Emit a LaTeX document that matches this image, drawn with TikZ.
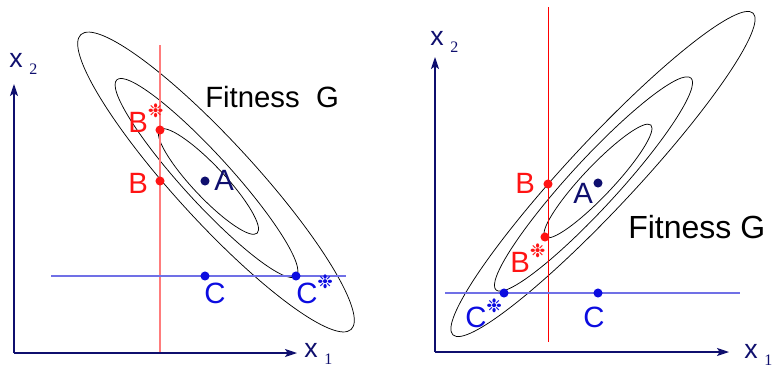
\documentclass[tikz,border=0pt]{standalone}
\usepackage{fontspec}
\setmainfont{Liberation Sans}
\newfontfamily\subfont{Liberation Serif}
\newfontfamily\symfont{DejaVu Sans}
\usetikzlibrary{arrows.meta,positioning}
\definecolor{fnavy}{HTML}{0F0F6E}
\definecolor{fred}{HTML}{FF1414}
\definecolor{fpink}{HTML}{FF7C7C}
\definecolor{fblue}{HTML}{0C0CE0}
\definecolor{flblue}{HTML}{7070E6}
\newcommand{\starmark}{\raisebox{11pt}{\symfont\fontsize{14}{14}\selectfont ❉}}
\newcommand{\axsub}[1]{\hspace{5pt}\raisebox{-5.5pt}{\subfont\fontsize{12}{12}\selectfont #1}}
\tikzset{
  axis/.style={draw=fnavy,line width=0.8pt,-{Stealth[length=9pt,width=6pt,inset=2pt]}},
  contour/.style={draw=black,line width=0.55pt},
  dot/.style={circle,inner sep=0pt,minimum size=6.8pt},
  lbl/.style={font=\fontsize{22}{24}\selectfont,inner sep=0pt,anchor=base west},
  axlbl/.style={font=\fontsize{20}{22}\selectfont,inner sep=0pt,anchor=base west,text=fnavy},
}
\begin{document}
\begin{tikzpicture}[x=0.75pt,y=-0.75pt]
\useasboundingbox (0,0) rectangle (772,369);
% left: fitness G with negative correlation
\coordinate (o1) at (14,353);
\coordinate (e1) at (297,353);
\coordinate (f1) at (14,84);
\coordinate (rt1) at (160,45);
\coordinate (rb1) at (160,353);
\coordinate (bl1) at (51,276);
\coordinate (br1) at (346,276);
\draw[contour,rotate around={-47.5:(216,182)}] (216,182) ellipse [x radius=200,y radius=40];
\draw[contour,rotate around={-47.6:(206.5,178)}] (206.5,178) ellipse [x radius=133,y radius=24];
\draw[contour,rotate around={-46.7:(208.5,181.5)}] (208.5,181.5) ellipse [x radius=71,y radius=16];
\draw[fpink,line width=1pt] (rt1) -- (rb1);
\draw[flblue,line width=1pt] (bl1) -- (br1);
\draw[axis] (o1) -- (e1);
\draw[axis] (o1) -- (f1);
\node[dot,fill=fred] (bs1) at (160,130) {};
\node[dot,fill=fred] (b1) at (160,181) {};
\node[dot,fill=fnavy] (a1) at (205,181) {};
\node[dot,fill=fblue] (c1) at (205,276) {};
\node[dot,fill=fblue] (cs1) at (296,276) {};
\node[lbl,text=fred] (bslbl1) at (128,132) {B\starmark};
\node[lbl,text=fred] (blbl1) at (128,193) {B};
\node[lbl,text=fnavy] (albl1) at (214,190) {A};
\node[lbl,text=fblue] (clbl1) at (204,303) {C};
\node[lbl,text=fblue] (cslbl1) at (296,303) {C\starmark};
\node[lbl] (fit1) at (205,107) {Fitness\ \ G};
\node[axlbl] (x2lbl1) at (9,67) {x\axsub{2}};
\node[axlbl] (x1lbl1) at (304,357) {x\axsub{1}};
% right: fitness G with positive correlation
\coordinate (o2) at (435,352);
\coordinate (e2) at (729,352);
\coordinate (f2) at (435,57);
\coordinate (rt2) at (548,7);
\coordinate (rb2) at (548,342);
\coordinate (bl2) at (445,293);
\coordinate (br2) at (740,293);
\draw[contour,rotate around={47:(603,174)}] (603,174) ellipse [x radius=220,y radius=34];
\draw[contour,rotate around={47.4:(593.5,184)}] (593.5,184) ellipse [x radius=144,y radius=24];
\draw[contour,rotate around={46.6:(598,181)}] (598,181) ellipse [x radius=77,y radius=15];
\draw[red,line width=0.7pt] (rt2) -- (rb2);
\draw[flblue,line width=1pt] (bl2) -- (br2);
\draw[axis] (o2) -- (e2);
\draw[axis] (o2) -- (f2);
\node[dot,fill=fred] (b2) at (548,184) {};
\node[dot,fill=fred] (bs2) at (545,237) {};
\node[dot,fill=fnavy] (a2) at (598,183) {};
\node[dot,fill=fblue] (c2) at (598,293) {};
\node[dot,fill=fblue] (cs2) at (504,293) {};
\node[lbl,text=fred] (blbl2) at (515,193) {B};
\node[lbl,text=fred] (bslbl2) at (510,272) {B\starmark};
\node[lbl,text=fnavy] (albl2) at (573,203) {A};
\node[lbl,text=fblue] (clbl2) at (583,327) {C};
\node[lbl,text=fblue] (cslbl2) at (465,327) {C\starmark};
\node[lbl,font=\fontsize{24}{26}\selectfont] (fit2) at (628,238) {Fitness G};
\node[axlbl] (x2lbl2) at (430,45) {x\axsub{2}};
\node[axlbl] (x1lbl2) at (744,358) {x\axsub{1}};
\end{tikzpicture}
\end{document}
